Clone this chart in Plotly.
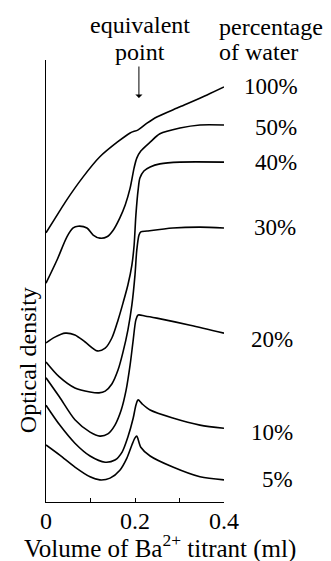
import plotly.graph_objects as go

# Volume of Ba2+ titrant (ml) and optical density (arbitrary units, 0-100)
x_100 = [0, 0.02, 0.043, 0.083, 0.121, 0.16, 0.189, 0.207, 0.227, 0.249, 0.301, 0.362, 0.4]
y_100 = [60.9, 64.1, 67.8, 73.5, 78.1, 81.4, 83.5, 84.2, 85.7, 87.1, 89.4, 92.1, 93.9]

x_50 = [0, 0.025, 0.047, 0.061, 0.072, 0.092, 0.106, 0.121, 0.137, 0.151, 0.166, 0.178,
        0.189, 0.198, 0.204, 0.213, 0.234, 0.256, 0.301, 0.346, 0.4]
y_50 = [49.5, 54.8, 60.0, 62.0, 62.4, 62.0, 60.4, 59.7, 60.0, 61.5, 64.3, 67.2,
        71.0, 75.6, 77.8, 79.4, 81.4, 83.3, 84.6, 85.3, 85.3]

x_40 = [0, 0.02, 0.043, 0.065, 0.088, 0.115, 0.133, 0.148, 0.162, 0.173, 0.184, 0.193,
        0.198, 0.202, 0.207, 0.211, 0.22, 0.234, 0.256, 0.301, 0.4]
y_40 = [36.0, 37.3, 38.2, 37.8, 36.2, 34.2, 34.8, 37.1, 41.2, 45.0, 49.1, 53.6,
        58.1, 64.9, 70.6, 73.3, 74.9, 75.8, 76.5, 76.9, 76.9]

x_30 = [0, 0.03, 0.065, 0.099, 0.119, 0.133, 0.148, 0.162, 0.173, 0.184, 0.193, 0.2,
        0.204, 0.209, 0.213, 0.227, 0.285, 0.346, 0.4]
y_30 = [31.7, 28.3, 25.8, 24.9, 24.7, 25.1, 26.7, 29.9, 33.9, 38.9, 44.6, 51.4,
        57.0, 60.4, 61.1, 61.3, 62.0, 62.2, 62.0]

x_20 = [0, 0.03, 0.065, 0.099, 0.121, 0.139, 0.155, 0.169, 0.18, 0.189, 0.196, 0.202,
        0.207, 0.222, 0.249, 0.324, 0.4]
y_20 = [28.1, 23.8, 18.6, 15.8, 14.9, 15.4, 17.4, 20.8, 25.3, 31.0, 36.7, 41.2,
        42.3, 42.1, 41.6, 40.0, 38.2]

x_10 = [0, 0.031, 0.065, 0.099, 0.133, 0.155, 0.171, 0.184, 0.196, 0.202, 0.207, 0.216,
        0.234, 0.285, 0.346, 0.4]
y_10 = [21.9, 17.4, 13.3, 10.4, 9.0, 9.5, 11.3, 14.7, 19.0, 21.9, 23.1, 22.2,
        20.8, 19.0, 17.4, 16.7]

x_5 = [0, 0.031, 0.065, 0.099, 0.121, 0.144, 0.166, 0.182, 0.193, 0.2, 0.204, 0.213,
       0.234, 0.285, 0.346, 0.4]
y_5 = [12.9, 10.6, 7.9, 5.7, 5.0, 5.4, 7.2, 10.0, 12.9, 14.5, 14.9, 12.4,
       10.4, 7.9, 5.7, 5.0]

series = [("100%", x_100, y_100), ("50%", x_50, y_50), ("40%", x_40, y_40),
          ("30%", x_30, y_30), ("20%", x_20, y_20), ("10%", x_10, y_10), ("5%", x_5, y_5)]

# label positions in paper coordinates
label_px = [1.264, 1.292, 1.292, 1.287, 1.270, 1.270, 1.303]
label_py = [0.939, 0.848, 0.767, 0.620, 0.367, 0.158, 0.052]

tick_vals = [0, 0.1, 0.2, 0.3, 0.4]
tick_text = ["0", "", "0.2", "", "0.4"]

FONT = "Liberation Serif"
BLACK = "black"


def txt(x, y, text, size, xanchor="center", angle=0):
    return dict(x=x, y=y, xref="paper", yref="paper", text=text, showarrow=False,
                xanchor=xanchor, yanchor="middle", textangle=angle,
                font=dict(family=FONT, size=size, color=BLACK))


fig = go.Figure()
for name, xs, ys in series:
    fig.add_trace(go.Scatter(x=xs, y=ys, mode="lines", name=name,
                             line=dict(color=BLACK, width=1.6, shape="spline", smoothing=0.8),
                             showlegend=False, hoverinfo="skip"))

annotations = [txt(lx, ly, name, 23) for (name, _, _), lx, ly in zip(series, label_px, label_py)]

annotations += [
    txt(0.528, 1.079, "equivalent", 24),
    txt(0.528, 1.018, "point", 24),
    txt(0.961, 1.075, "percentage", 24, xanchor="left"),
    txt(0.961, 1.018, "of water", 24, xanchor="left"),
    dict(x=0.522, y=0.914, xref="paper", yref="paper", text="", showarrow=True,
         axref="pixel", ayref="pixel", ax=0, ay=-33, arrowhead=1, arrowsize=1.2,
         arrowwidth=1, arrowcolor=BLACK),
    txt(0.64, -0.100, "Volume of Ba<sup>2+</sup> titrant (ml)", 25),
    txt(-0.101, 0.321, "Optical density", 24, angle=-90),
]

# page body has an 8px default margin, so the figure is sized to fit the window
fig.update_layout(
    width=323, height=553,
    margin=dict(l=38, r=107, t=52, b=59),
    paper_bgcolor="white", plot_bgcolor="white",
    annotations=annotations,
    font=dict(family=FONT, color=BLACK),
)
fig.update_xaxes(range=[0, 0.4], showgrid=False, zeroline=False, showline=True,
                 linecolor=BLACK, linewidth=1.2, ticks="inside", ticklen=4, tickcolor=BLACK,
                 tickvals=tick_vals, ticktext=tick_text, ticklabelstandoff=-3,
                 tickfont=dict(family=FONT, size=24, color=BLACK))
fig.update_yaxes(range=[0, 100], showgrid=False, zeroline=False, showline=True,
                 linecolor=BLACK, linewidth=1.2, showticklabels=False, ticks="")

fig.write_html("out.html")
